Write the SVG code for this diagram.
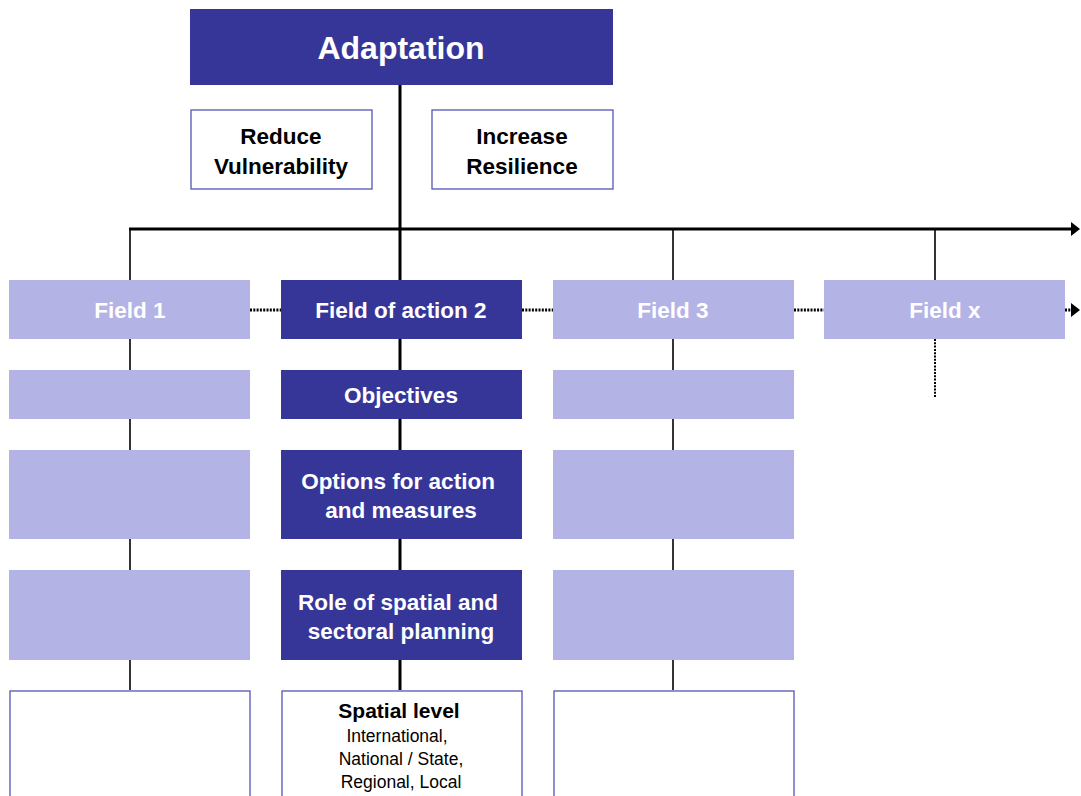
<svg xmlns="http://www.w3.org/2000/svg" width="1081" height="796" viewBox="0 0 1081 796">
<defs>
<style>
.dark{fill:#363699}
.light{fill:#b3b3e6}
.outline{fill:#ffffff;stroke:#5555b5;stroke-width:1.3}
.tw{font-family:"Liberation Sans",Arial,sans-serif;font-weight:bold;fill:#ffffff;text-anchor:middle;font-size:22.5px}
.tb{font-family:"Liberation Sans",Arial,sans-serif;font-weight:bold;fill:#000000;text-anchor:middle;font-size:22.5px}
.ts{font-family:"Liberation Sans",Arial,sans-serif;fill:#000000;text-anchor:middle;font-size:17.5px}
.thick{stroke:#000;stroke-width:3;fill:none}
.thin{stroke:#000;stroke-width:1.6;fill:none}
.dot{stroke:#000;stroke-width:3;stroke-dasharray:2 1.3;fill:none}
.dotv{stroke:#000;stroke-width:2;stroke-dasharray:2 1.3;fill:none}
</style>
<marker id="arr" markerWidth="9" markerHeight="14" refX="1" refY="7" orient="auto" markerUnits="userSpaceOnUse"><path d="M0,0 L9,7 L0,14 Z" fill="#000"/></marker>
</defs>
<g id="connectors">
<line class="thick" x1="400" y1="85" x2="400" y2="690"/>
<line class="thick" x1="129" y1="229" x2="1072" y2="229" marker-end="url(#arr)"/>
<line class="thin" x1="130" y1="229" x2="130" y2="690"/>
<line class="thin" x1="673" y1="229" x2="673" y2="690"/>
<line class="thin" x1="935" y1="229" x2="935" y2="280"/>
<line class="dotv" x1="935" y1="339" x2="935" y2="398"/>
<line class="dot" x1="250" y1="310" x2="281" y2="310"/>
<line class="dot" x1="522" y1="310" x2="553" y2="310"/>
<line class="dot" x1="794" y1="310" x2="824" y2="310"/>
<line class="dot" x1="1065" y1="310" x2="1072" y2="310" marker-end="url(#arr)"/>
</g>
<g id="adaptation"><rect class="dark" x="190" y="9" width="423" height="76"/><text class="tw" x="401" y="59" style="font-size:32px">Adaptation</text></g>
<g id="reduce"><rect class="outline" x="191" y="110" width="181" height="79"/><text class="tb" x="281" y="144">Reduce</text><text class="tb" x="281" y="174">Vulnerability</text></g>
<g id="increase"><rect class="outline" x="432" y="110" width="181" height="79"/><text class="tb" x="522" y="144">Increase</text><text class="tb" x="522" y="174">Resilience</text></g>
<g id="field1"><rect class="light" x="9" y="280" width="241" height="59"/><text class="tw" x="130" y="318">Field 1</text></g>
<g id="field2"><rect class="dark" x="281" y="280" width="241" height="59"/><text class="tw" x="401" y="318">Field of action 2</text></g>
<g id="field3"><rect class="light" x="553" y="280" width="241" height="59"/><text class="tw" x="673" y="318">Field 3</text></g>
<g id="fieldx"><rect class="light" x="824" y="280" width="241" height="59"/><text class="tw" x="945" y="318">Field x</text></g>
<g id="col1-row2"><rect class="light" x="9" y="370" width="241" height="49"/></g>
<g id="objectives"><rect class="dark" x="281" y="370" width="241" height="49"/><text class="tw" x="401" y="403">Objectives</text></g>
<g id="col3-row2"><rect class="light" x="553" y="370" width="241" height="49"/></g>
<g id="col1-row3"><rect class="light" x="9" y="450" width="241" height="89"/></g>
<g id="options"><rect class="dark" x="281" y="450" width="241" height="89"/><text class="tw" x="398" y="489">Options for action</text><text class="tw" x="401" y="518">and measures</text></g>
<g id="col3-row3"><rect class="light" x="553" y="450" width="241" height="89"/></g>
<g id="col1-row4"><rect class="light" x="9" y="570" width="241" height="90"/></g>
<g id="role"><rect class="dark" x="281" y="570" width="241" height="90"/><text class="tw" x="398" y="610">Role of spatial and</text><text class="tw" x="401" y="639">sectoral planning</text></g>
<g id="col3-row4"><rect class="light" x="553" y="570" width="241" height="90"/></g>
<g id="col1-row5"><rect class="outline" x="10" y="691" width="240" height="110"/></g>
<g id="spatial"><rect class="outline" x="282" y="691" width="240" height="110"/><text class="tb" x="399" y="718" style="font-size:21px">Spatial level</text><text class="ts" x="397" y="742">International,</text><text class="ts" x="401" y="765">National / State,</text><text class="ts" x="401" y="788">Regional, Local</text></g>
<g id="col3-row5"><rect class="outline" x="554" y="691" width="240" height="110"/></g>
</svg>
